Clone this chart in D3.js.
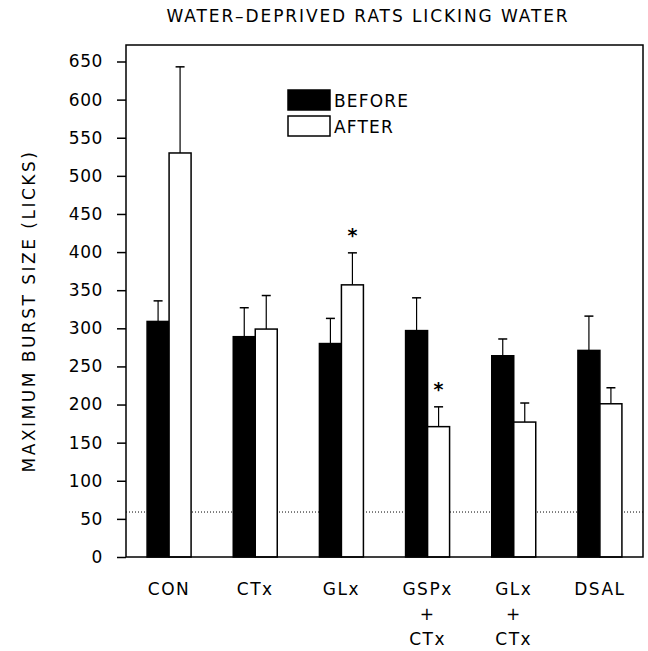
<!DOCTYPE html>
<html>
<head>
<meta charset="utf-8">
<script src="https://cdn.jsdelivr.net/npm/d3@7"></script>
<style>
  body { margin: 0; background: #fff; }
  text { font-family: "DejaVu Sans", sans-serif; fill: #000; }
</style>
</head>
<body>
<script>
// data
var categories = ["CON", "CTx", "GLx", "GSPx+CTx", "GLx+CTx", "DSAL"];
var labelLines = [["CON"], ["CTx"], ["GLx"], ["GSPx", "+", "CTx"], ["GLx", "+", "CTx"], ["DSAL"]];
var series = ["BEFORE", "AFTER"];
var beforeVals = [309, 289, 280, 297, 264, 271];
var beforeErr  = [27, 38, 33, 43, 22, 45];
var afterVals  = [530, 299, 357, 171, 177, 201];
var afterErr   = [113, 44, 42, 26, 25, 21];
var afterStar  = [false, false, true, true, false, false];
var yTicks = [0, 50, 100, 150, 200, 250, 300, 350, 400, 450, 500, 550, 600, 650];
var baselineRef = 59;

var W = 648, H = 651;
// plot frame (note: "top" would clash with window.top)
var pLeft = 126, pRight = 643, pTop = 45, pBottom = 557;

var svg = d3.select("body").append("svg")
    .attr("width", W)
    .attr("height", H);

var x = d3.scaleBand()
    .domain(categories)
    .range([pLeft, pRight])
    .padding(0);

var barW = 22;
var xs = d3.scaleBand()
    .domain(series)
    .range([x.bandwidth() / 2 - barW, x.bandwidth() / 2 + barW]);

var y = d3.scaleLinear()
    .domain([0, 650])
    .range([pBottom, 61.5]);

// title
svg.append("text")
    .attr("x", 368)
    .attr("y", 22)
    .attr("text-anchor", "middle")
    .style("font-size", "17px")
    .style("letter-spacing", "1.9px")
    .text("WATER\u2013DEPRIVED RATS LICKING WATER");

// dotted reference line
svg.append("line")
    .attr("x1", pLeft).attr("x2", pRight)
    .attr("y1", y(baselineRef)).attr("y2", y(baselineRef))
    .attr("stroke", "#000")
    .attr("stroke-width", 1)
    .attr("stroke-dasharray", "1,2");

// y axis
var yAxis = svg.append("g")
    .attr("transform", "translate(" + pLeft + ",0)")
    .call(d3.axisLeft(y).tickValues(yTicks).tickSize(9).tickPadding(14));
yAxis.select(".domain").remove();
yAxis.selectAll("line").attr("stroke", "#000").attr("stroke-width", 1.5);
yAxis.selectAll("text")
    .style("font-size", "17px")
    .style("letter-spacing", "0.6px")
    .style("font-family", "'DejaVu Sans', sans-serif");

// y label
svg.append("text")
    .attr("transform", "translate(35,311) rotate(-90)")
    .attr("text-anchor", "middle")
    .style("font-size", "17px")
    .style("letter-spacing", "2.5px")
    .text("MAXIMUM BURST SIZE (LICKS)");

var rows = categories.map(function(c, i) {
    return [
        { cat: c, key: "BEFORE", v: beforeVals[i], e: beforeErr[i], star: false },
        { cat: c, key: "AFTER", v: afterVals[i], e: afterErr[i], star: afterStar[i] }
    ];
});

var groups = svg.selectAll(".grp")
    .data(rows)
    .enter().append("g")
    .attr("class", "grp")
    .attr("transform", function(d) { return "translate(" + x(d[0].cat) + ",0)"; });

var bars = groups.selectAll(".bar")
    .data(function(d) { return d; })
    .enter().append("g")
    .attr("class", "bar");

// error bars (upper only)
bars.append("line")
    .attr("x1", function(d) { return xs(d.key) + barW / 2; })
    .attr("x2", function(d) { return xs(d.key) + barW / 2; })
    .attr("y1", function(d) { return y(d.v); })
    .attr("y2", function(d) { return y(d.v + d.e); })
    .attr("stroke", "#000")
    .attr("stroke-width", 1.2);
bars.append("line")
    .attr("x1", function(d) { return xs(d.key) + barW / 2 - 4.5; })
    .attr("x2", function(d) { return xs(d.key) + barW / 2 + 4.5; })
    .attr("y1", function(d) { return y(d.v + d.e); })
    .attr("y2", function(d) { return y(d.v + d.e); })
    .attr("stroke", "#000")
    .attr("stroke-width", 1.5);

bars.append("rect")
    .attr("x", function(d) { return xs(d.key); })
    .attr("y", function(d) { return y(d.v); })
    .attr("width", barW)
    .attr("height", function(d) { return y(0) - y(d.v); })
    .attr("fill", function(d) { return d.key == "BEFORE" ? "#000" : "#fff"; })
    .attr("stroke", "#000")
    .attr("stroke-width", 1.5);

// significance stars
bars.filter(function(d) { return d.star; })
    .append("text")
    .attr("x", function(d) { return xs(d.key) + barW / 2; })
    .attr("y", function(d) { return y(d.v + d.e) - 11; })
    .attr("text-anchor", "middle")
    .style("font-size", "19px")
    .style("font-weight", "bold")
    .text("*");

// frame
svg.append("rect")
    .attr("x", pLeft).attr("y", pTop)
    .attr("width", pRight - pLeft).attr("height", pBottom - pTop)
    .attr("fill", "none")
    .attr("stroke", "#000")
    .attr("stroke-width", 1.5);

// category labels
var lab = svg.selectAll(".xlab")
    .data(categories)
    .enter().append("text")
    .attr("class", "xlab")
    .attr("text-anchor", "middle")
    .style("font-size", "17px")
    .style("letter-spacing", "1.5px");
lab.selectAll("tspan")
    .data(function(d, i) { return labelLines[i].map(function(t) { return { t: t, c: d }; }); })
    .enter().append("tspan")
    .attr("x", function(d) { return x(d.c) + x.bandwidth() / 2; })
    .attr("y", function(d, i) { return 595 + i * 25; })
    .text(function(d) { return d.t; });

// legend
var leg = svg.append("g").attr("transform", "translate(288,90)");
series.forEach(function(s, i) {
    leg.append("rect")
        .attr("x", 0).attr("y", i * 26)
        .attr("width", 42).attr("height", 20)
        .attr("fill", s == "BEFORE" ? "#000" : "#fff")
        .attr("stroke", "#000")
        .attr("stroke-width", 1.5);
    leg.append("text")
        .attr("x", 46).attr("y", i * 26 + 17)
        .style("font-size", "17px")
        .style("letter-spacing", "1.2px")
        .text(s);
});
</script>
</body>
</html>
